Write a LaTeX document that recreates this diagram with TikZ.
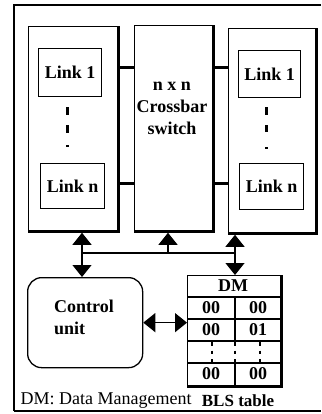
\documentclass[tikz,border=0pt]{standalone}
\usepackage{fontspec}
\setmainfont{Liberation Serif}
\usetikzlibrary{arrows.meta}
% heavy right and bottom edges of a box
\newcommand\heavyedge[1]{%
  \draw[line width=2.6pt,line cap=rect]
    ([xshift=0.8pt,yshift=-1pt]#1.north east) -- ([xshift=0.8pt,yshift=-0.8pt]#1.south east)
    -- ([xshift=1pt,yshift=-0.8pt]#1.south west);}
\begin{document}
\begin{tikzpicture}[x=1pt,y=-1pt,line width=1.3pt,
  box/.style={draw,inner sep=0pt,anchor=north west},
  lbl/.style={font=\fontsize{18}{22}\selectfont\bfseries,inner sep=0pt},
  txt/.style={font=\fontsize{18}{21}\selectfont,inner sep=0pt},
  bus/.style={line width=3pt},
  head/.tip={Triangle[width=19pt,length=12pt]},
  tipend/.style={-head},
  dbl/.style={head-head},
  dotmark/.style={fill=black,draw=none}]
\useasboundingbox (0,0) rectangle (321,414);

% outer frame
\draw (321,5) -- (14,5) -- (14,411);
\draw[line width=2.2pt] (14,411) -- (321,411);

% left link column
\node[box,minimum width=89pt,minimum height=204pt] (lcol) at (28,26) {};
\heavyedge{lcol}
\node[box,minimum width=63pt,minimum height=48pt] (l1) at (38,48) {};
\node[lbl] (l1t) at (l1.center) {Link 1};
\node[box,minimum width=64pt,minimum height=45pt] (ln) at (40,163) {};
\node[lbl] (lnt) at (ln.center) {Link n};
\fill[dotmark] (66,107) rectangle (69,115);
\fill[dotmark] (66,125) rectangle (69,133);
\fill[dotmark] (66,144.5) rectangle (69,147);

% crossbar
\node[box,minimum width=78pt,minimum height=205pt] (xbar) at (134,25) {};
\heavyedge{xbar}
\node[lbl,align=center] (xbart) at (172,108) {n x n\\Crossbar\\switch};

% right link column
\node[box,minimum width=87pt,minimum height=204pt] (rcol) at (228,28) {};
\heavyedge{rcol}
\node[box,minimum width=62pt,minimum height=47pt] (r1) at (238,50) {};
\node[lbl] (r1t) at (r1.center) {Link 1};
\node[box,minimum width=64pt,minimum height=46pt] (rn) at (239,163) {};
\node[lbl] (rnt) at (rn.center) {Link n};
\fill[dotmark] (265,107) rectangle (268,115);
\fill[dotmark] (265,125) rectangle (268,132);
\fill[dotmark] (265,146.5) rectangle (268,149);

% link lines to the crossbar
\coordinate (ya) at (0,68);
\coordinate (yb) at (0,183);
\draw[bus] ([xshift=1pt]lcol.east |- ya) -- (xbar.west |- ya);
\draw[bus] ([xshift=1pt]lcol.east |- yb) -- (xbar.west |- yb);
\draw[bus] ([xshift=1pt]xbar.east |- ya) -- (rcol.west |- ya);
\draw[bus] ([xshift=1pt]xbar.east |- yb) -- (rcol.west |- yb);

% control unit
\node[box,rounded corners=14pt,minimum width=115pt,minimum height=90pt] (cu) at (27,277) {};
\node[lbl,align=left] (cut) at (84,317) {Control\\unit};

% BLS table
\node[box,minimum width=93pt,minimum height=110pt] (bls) at (187,275) {};
\heavyedge{bls}
\coordinate (h1) at (0,297);
\coordinate (h2) at (0,319);
\coordinate (h3) at (0,341);
\coordinate (h4) at (0,363);
\coordinate (vc) at (235,0);
\foreach \h in {h1,h2,h3,h4}
  \draw (bls.west |- \h) -- (bls.east |- \h);
\draw (vc |- h1) -- (vc |- h3);
\draw (vc |- h4) -- (vc |- bls.south);
\node[lbl] (dm) at (233,286) {DM};
\node[lbl] (a1) at (211,308) {00};
\node[lbl] (b1) at (258,308) {00};
\node[lbl] (a2) at (211,330) {00};
\node[lbl] (b2) at (258,330) {01};
\node[lbl] (a4) at (211,374) {00};
\node[lbl] (b4) at (258,374) {00};
\foreach \x in {212,235,260}
  \draw[line width=1.6pt,dash pattern=on 3.5pt off 5pt] (\x,342) -- (\x,362);

% connections
\coordinate (j1) at (82,253);
\coordinate (j2) at (168,253);
\coordinate (j3) at (235,253);
\draw[dbl] ([yshift=-1.5pt]lcol.south -| j1) -- (cu.north -| j1);
\draw (j1) -- (j3);
\draw[tipend] (j2) -- ([yshift=-1.5pt]xbar.south -| j2);
\draw[dbl] ([yshift=-1.5pt]rcol.south -| j3) -- (bls.north -| j3);
\draw[dbl] (cu.east) -- (bls.west |- cu.east);

% caption
\node[txt,anchor=west] (note) at (20,401) {DM: Data Management};
\node[lbl,font=\fontsize{17}{20}\selectfont\bfseries] (cap) at (238,401) {BLS table};
\end{tikzpicture}
\end{document}
